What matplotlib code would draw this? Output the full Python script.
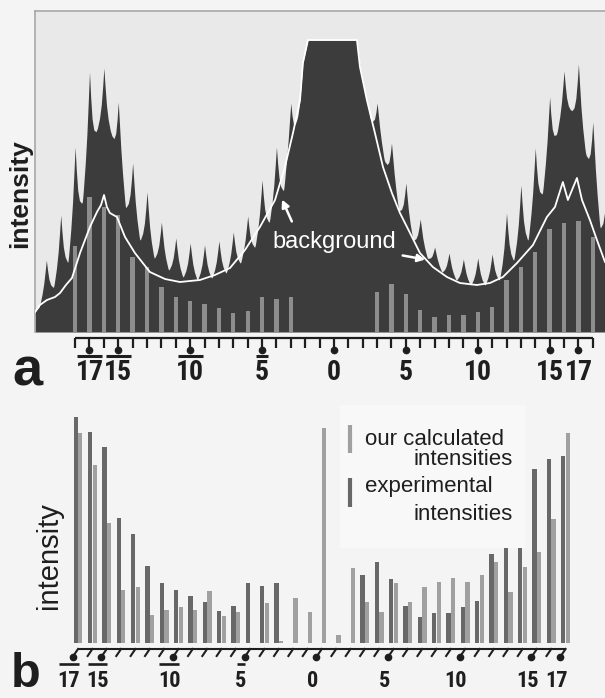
import numpy as np
import matplotlib
matplotlib.use("Agg")
import matplotlib.pyplot as plt
from matplotlib import font_manager
from matplotlib.lines import Line2D
from matplotlib.patches import Rectangle

SANS = ["Liberation Sans", "DejaVu Sans"]
plt.rcParams["font.family"] = SANS

# a narrow face for the index numbers if one is installed, else plain sans a bit smaller
_have = {f.name for f in font_manager.fontManager.ttflist}
_narrow = [n for n in ("Liberation Sans Narrow", "DejaVu Sans Condensed", "Roboto Condensed",
                       "Open Sans Condensed", "Noto Sans Condensed") if n in _have]
NARROW = (_narrow[:1] or []) + SANS
IDX_SCALE = 1.0 if _narrow else 0.85

# ---- panel a: measured profile (x = reflection index, y = arbitrary intensity) ----
PEAK_IDX = list(range(-20, -2)) + list(range(3, 20))
PEAK_H = [72, 117, 185, 260, 264, 230, 169, 140, 110, 94, 89, 87, 91, 100, 116, 152, 185, 229,
          229, 189, 149, 113, 85, 79, 73, 74, 78, 119, 147, 184, 235, 261, 268, 210, 159]

# floor of the dark profile between the spikes (half-integer positions)
VALLEY_POS = [k + 0.5 for k in range(-21, -2)] + [k + 0.5 for k in range(2, 20)]
VALLEY_H = [25, 45, 70, 130, 202, 199, 125, 92, 74, 62, 55, 52, 54, 59, 69, 85, 110, 142, 217,
            215, 172, 122, 92, 74, 60, 52, 47, 47, 52, 72, 92, 139, 199, 222, 179, 105, 60]

# saturated central beam
CORE_POS = [-20.79, -2.36, -2.16, -1.81, 1.60, 1.81, 2.29]
CORE_H = [20, 232, 269, 292, 292, 265, 232]

# white "background" trace
BG_POS = [-20.79, -20.45, -19.96, -19.40, -19.05, -18.64, -18.22, -17.66, -16.97, -16.48,
          -16.20, -15.99, -15.79, -15.58, -15.09, -14.53, -13.84, -12.80, -11.75, -10.71,
          -9.32, -8.28, -7.23, -6.19, -5.15, -4.10, -3.41, -2.85, -2.36, -2.16, -1.81,
          1.60, 1.81, 2.29, 2.85, 3.41, 4.03, 4.59, 5.29, 5.98, 6.88, 7.86, 8.76, 9.94,
          10.85, 11.75, 12.73, 13.84, 14.81, 15.37, 15.92, 16.27, 16.90, 17.25, 17.80,
          18.29, 18.85]
BG_H = [20, 27, 32, 35, 39, 47, 54, 79, 105, 120, 127, 137, 125, 119, 115, 95, 79, 60, 53, 50,
        52, 57, 64, 82, 105, 132, 165, 199, 232, 269, 292, 292, 265, 232, 199, 165, 139, 119,
        99, 79, 65, 55, 49, 47, 49, 55, 69, 87, 115, 125, 150, 132, 154, 132, 112, 92, 70]

# calculated intensities drawn in panel a
BAR_A_IDX = list(range(-18, -2)) + list(range(3, 19))
BAR_A_H = [86, 135, 125, 117, 75, 65, 45, 35, 31, 28, 24, 19, 21, 35, 33, 35,
           40, 48, 38, 22, 15, 17, 17, 20, 25, 52, 65, 80, 103, 109, 111, 95]

# ---- panel b: experimental vs calculated ----
B_IDX = list(range(-17, 18))
EXP_H = [226, 211, 196, 125, 109, 77, 60, 53, 47, 41, 32, 37, 60, 57, 60,
         0, 0, 0, 0, 0,
         68, 81, 64, 37, 26, 30, 30, 36, 42, 89, 110, 135, 174, 184, 187]
CALC_H = [210, 178, 120, 53, 56, 28, 33, 36, 33, 52, 27, 31, 0, 40, 2,
          45, 31, 215, 8, 75,
          41, 31, 60, 41, 56, 61, 65, 61, 68, 81, 51, 76, 91, 124, 210]

LABELED = [-17, -15, -10, -5, 0, 5, 10, 15, 17]

# spike template used to draw each reflection on top of its floor (style only)
SPIKE_DX = np.array([-0.45, -0.3, -0.18, -0.08, 0.0, 0.08, 0.18, 0.3, 0.45])
SPIKE_F = np.array([0.03, 0.2, 0.42, 0.72, 1.0, 0.72, 0.42, 0.2, 0.03])

FIG_BG = "#f4f4f4"
INK = "#1e1e1e"
W, H = 605, 698
fig = plt.figure(figsize=(W / 100, H / 100), dpi=100, facecolor=FIG_BG)


def px_axes(x0, y0, x1, y1):
    """axes from a pixel box given with a top-left origin"""
    return fig.add_axes([x0 / W, 1 - y1 / H, (x1 - x0) / W, (y1 - y0) / H])


def fig_xy(x, y):
    return x / W, 1 - y / H


# ---------------- panel a ----------------
ax_a = px_axes(35, 11, 605, 332)
ax_a.set_facecolor("#e9e9e9")
ax_a.set_xlim(-20.79, 18.85)
ax_a.set_ylim(0, 321)
ax_a.set_xticks([])
ax_a.set_yticks([])
for side in ("right", "bottom"):
    ax_a.spines[side].set_visible(False)
for side in ("left", "top"):
    ax_a.spines[side].set_color("#a8a8a8")
    ax_a.spines[side].set_linewidth(1.2)

xs = list(VALLEY_POS) + list(CORE_POS)
ys = list(VALLEY_H) + list(CORE_H)
for k, p in zip(PEAK_IDX, PEAK_H):
    floor = np.interp(k + SPIKE_DX, VALLEY_POS, VALLEY_H)
    xs += list(k + SPIKE_DX)
    ys += list(floor + (p - floor) * SPIKE_F)
order = np.argsort(xs)
ax_a.fill_between(np.array(xs)[order], np.array(ys)[order], 0, color="#3c3c3c", lw=0, zorder=2)
ax_a.bar(BAR_A_IDX, BAR_A_H, width=0.3, color="#8d8d8d", zorder=3)
ax_a.plot(BG_POS, BG_H, color="white", lw=1.3, zorder=4)

ax_a.annotate("", xy=(-3.69, 135), xytext=(-2.85, 108),
              arrowprops=dict(arrowstyle="-|>", color="white", lw=1.8, mutation_scale=11),
              zorder=5)
ax_a.annotate("", xy=(6.54, 72), xytext=(4.59, 77),
              arrowprops=dict(arrowstyle="-|>", color="white", lw=1.8, mutation_scale=11),
              zorder=5)
fig.text(*fig_xy(272, 248), "background", color="white", fontsize=17,
         ha="left", va="baseline", zorder=6)

# index scale under panel a
all_a = np.arange(-18, 19)
ax_a.plot([-18, 18], [-6, -6], color=INK, lw=1.6, clip_on=False, solid_capstyle="butt")
ax_a.vlines(all_a, -16, -6, color=INK, lw=1.6, clip_on=False)
ax_a.plot(LABELED, [-18] * len(LABELED), "o", color=INK, ms=4.5, clip_on=False)
labels_a = []
for k in LABELED:
    t = ax_a.text(k, -48, str(abs(k)), ha="center", va="baseline", fontsize=20 * IDX_SCALE,
                  fontweight="bold", family=NARROW, color=INK, clip_on=False)
    labels_a.append((k, t))

fig.text(*fig_xy(20, 194), "intensity", rotation=90, ha="center", va="center",
         fontsize=19, fontweight="bold", color=INK)
fig.text(*fig_xy(12, 385), "a", fontsize=39, fontweight="bold", ha="left",
         va="baseline", color=INK)

# ---------------- panel b ----------------
ax_b = px_axes(35, 400, 605, 643)
ax_b.set_xlim(-20.0, 19.75)
ax_b.set_ylim(0, 243)
ax_b.axis("off")
b_idx = np.array(B_IDX)
ax_b.bar(b_idx - 0.16, EXP_H, width=0.3, color="#686868", zorder=3)
ax_b.bar(b_idx + 0.16, CALC_H, width=0.3, color="#a0a0a0", zorder=3)

ax_b.plot([-17, 17], [-6, -6], color=INK, lw=1.5, clip_on=False, solid_capstyle="butt")
for k in B_IDX:
    ax_b.plot([k, k - 0.33], [-6, -13], color=INK, lw=1.5, clip_on=False)
ax_b.plot(np.array(LABELED) - 0.38, [-14] * len(LABELED), "o", color=INK, ms=4.5,
          clip_on=False)
labels_b = []
for k in LABELED:
    t = ax_b.text(k - 0.65, -44, str(abs(k)), ha="center", va="baseline",
                  fontsize=16 * IDX_SCALE, fontweight="bold", family=NARROW, color=INK,
                  clip_on=False)
    labels_b.append((k, t))

fig.text(*fig_xy(49, 556), "intensity", rotation=90, ha="center", va="center",
         fontsize=21, color=INK)
fig.text(*fig_xy(11, 687), "b", fontsize=35, fontweight="bold", ha="left",
         va="baseline", color=INK)

# legend
fig.add_artist(Rectangle(fig_xy(340, 548), 185 / W, 143 / H, transform=fig.transFigure,
                         facecolor="#f8f8f8", edgecolor="none", zorder=0.5))
fig.add_artist(Line2D([350 / W] * 2, [1 - 425 / H, 1 - 453 / H], color="#a0a0a0", lw=3,
                      solid_capstyle="butt"))
fig.add_artist(Line2D([350 / W] * 2, [1 - 478 / H, 1 - 507 / H], color="#686868", lw=3,
                      solid_capstyle="butt"))
fig.text(*fig_xy(365, 445), "our calculated", fontsize=16, ha="left", va="baseline", color=INK)
fig.text(*fig_xy(513, 465), "intensities", fontsize=16, ha="right", va="baseline", color=INK)
fig.text(*fig_xy(365, 492), "experimental", fontsize=16, ha="left", va="baseline", color=INK)
fig.text(*fig_xy(513, 520), "intensities", fontsize=16, ha="right", va="baseline", color=INK)

# overbars on the negative indices, sized to the rendered labels (trimmed off the side bearings)
renderer = fig.canvas.get_renderer()
for labels, y_bar, lw in ((labels_a, 356, 2.2), (labels_b, 664, 1.9)):
    for k, t in labels:
        if k >= 0:
            continue
        bb = t.get_window_extent(renderer)
        x0, x1 = bb.x0 + 1.5, bb.x1 - 1.5
        fig.add_artist(Line2D([x0 / W, x1 / W], [1 - y_bar / H] * 2, color=INK, lw=lw,
                              solid_capstyle="butt"))

fig.savefig("out.png", dpi=100, facecolor=FIG_BG)
